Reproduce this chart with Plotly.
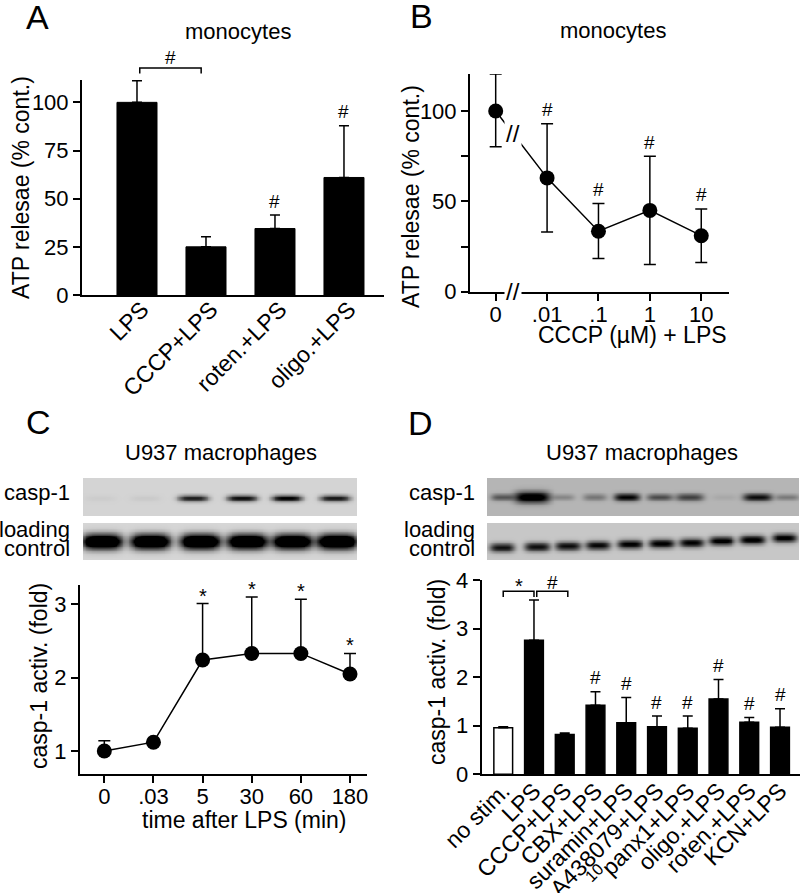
import numpy as np
import plotly.graph_objects as go

OFF = 0
W, H = 800, 893
FONT = "Liberation Sans, Arial, sans-serif"

# ---------------- data ----------------
# Panel A
a_cats = ["LPS", "CCCP+LPS", "roten.+LPS", "oligo.+LPS"]
a_mean = [100, 25, 34.5, 61]
a_err = [11.2, 5.2, 7.0, 26.8]
a_sig = ["", "", "#", "#"]

# Panel B
b_ticks = ["0", ".01", ".1", "1", "10"]
b_mean = [100, 63, 33.5, 45, 31]
b_err_up = [20.5, 30, 15.3, 30, 14.8]
b_err_dn = [19.7, 30, 15.1, 30, 14.8]
b_sig = ["", "#", "#", "#", "#"]

# Panel C
c_ticks = ["0", ".03", "5", "30", "60", "180"]
c_mean = [1.0, 1.12, 2.24, 2.33, 2.33, 2.05]
c_err = [0.14, 0.03, 0.77, 0.77, 0.74, 0.28]
c_sig = ["", "", "*", "*", "*", "*"]

# Panel D
d_cats = ["no stim.", "LPS", "CCCP+LPS", "CBX+LPS", "suramin+LPS", "A438079+LPS",
          "<sup>10</sup>panx1+LPS", "oligo.+LPS", "roten.+LPS", "KCN+LPS"]
d_mean = [0.96, 2.76, 0.82, 1.42, 1.06, 0.98, 0.95, 1.55, 1.07, 0.97]
d_err = [0.02, 0.83, 0.03, 0.28, 0.52, 0.22, 0.25, 0.40, 0.10, 0.38]
d_sig = ["", "", "", "#", "#", "#", "#", "#", "#", "#"]

# Western blots (lane position in lane units, relative band intensity)
c_casp_lanes = [0.0, 0.95, 1.96, 2.99, 3.94, 4.95]
c_casp_int = [0.03, 0.04, 0.75, 0.82, 0.88, 0.78]
c_load_lanes = [0.04, 1.06, 2.11, 3.10, 4.05, 5.00]
c_load_int = [0.97, 0.97, 1.0, 0.97, 0.95, 1.0]
d_casp_lanes = [0.0, 0.94, 1.92, 2.92, 3.93, 4.97, 5.91, 7.01, 8.05, 8.99]
d_casp_int = [0.45, 1.0, 0.22, 0.3, 0.85, 0.5, 0.55, 0.06, 0.8, 0.28]
d_load_lanes = [0.0, 1.10, 2.08, 3.02, 4.03, 5.03, 5.97, 6.92, 7.89, 8.90]
d_load_int = [0.72, 0.74, 0.74, 0.76, 0.8, 0.82, 0.8, 0.84, 0.84, 0.8]
d_load_ypos = [0.34, 0.36, 0.38, 0.40, 0.43, 0.45, 0.47, 0.52, 0.55, 0.60]

# ---------------- layout geometry (screen pixels) ----------------
cfg = {
    "A": dict(xd=(82, 384), yd=(80, 295), xr=(-0.797, 3.58), yr=(0, 111.6)),
    "B": dict(xd=(470, 729), yd=(74, 291.7), xr=(-0.5, 4.54), yr=(0, 120.5)),
    "C": dict(xd=(80, 366.7), yd=(585, 774.3), xr=(-0.495, 5.34), yr=(0.682, 3.263)),
    "D": dict(xd=(481.7, 800), yd=(580, 774.3), xr=(-0.70, 9.65), yr=(0, 4.0)),
}
blot_cfg = {
    "Ccasp": dict(xd=(83, 357), yd=(478, 516), xr=(-0.359, 5.42)),
    "Cload": dict(xd=(83, 357), yd=(523, 560), xr=(-0.359, 5.42)),
    "Dcasp": dict(xd=(487, 799), yd=(478, 516), xr=(-0.472, 9.37)),
    "Dload": dict(xd=(487, 799), yd=(523, 560), xr=(-0.472, 9.37)),
}


def pp(px, py):
    return (px - OFF) / W, 1 - (py - OFF) / H


def xdom(c):
    return [max(0, (c["xd"][0] - OFF) / W), min(1, (c["xd"][1] - OFF) / W)]


def ydom(c):
    return [max(0, 1 - (c["yd"][1] - OFF) / H), min(1, 1 - (c["yd"][0] - OFF) / H)]


def to_paper(c, xv, yv):
    px = c["xd"][0] + (xv - c["xr"][0]) / (c["xr"][1] - c["xr"][0]) * (c["xd"][1] - c["xd"][0])
    py = c["yd"][1] - (yv - c["yr"][0]) / (c["yr"][1] - c["yr"][0]) * (c["yd"][1] - c["yd"][0])
    return pp(px, py)


fig = go.Figure()

# ---------------- Panel A ----------------
fig.add_trace(go.Bar(
    x=list(range(len(a_cats))), y=a_mean, width=0.58,
    marker=dict(color="black", line=dict(color="black", width=1)),
    error_y=dict(type="data", symmetric=False, array=a_err, arrayminus=[0] * len(a_err),
                 color="black", thickness=1.5, width=5),
    xaxis="x", yaxis="y", hoverinfo="skip"))

# ---------------- Panel B ----------------
fig.add_trace(go.Scatter(
    x=list(range(len(b_ticks))), y=b_mean, mode="lines+markers",
    line=dict(color="black", width=1.5),
    marker=dict(color="black", size=15),
    error_y=dict(type="data", symmetric=False, array=b_err_up, arrayminus=b_err_dn,
                 color="black", thickness=1.5, width=6),
    xaxis="x2", yaxis="y2", hoverinfo="skip", cliponaxis=False))

# ---------------- Panel C ----------------
fig.add_trace(go.Scatter(
    x=list(range(len(c_ticks))), y=c_mean, mode="lines+markers",
    line=dict(color="black", width=1.5),
    marker=dict(color="black", size=15),
    error_y=dict(type="data", symmetric=False, array=c_err, arrayminus=[0] * len(c_err),
                 color="black", thickness=1.5, width=6),
    xaxis="x3", yaxis="y3", hoverinfo="skip", cliponaxis=False))

# ---------------- Panel D ----------------
fig.add_trace(go.Bar(
    x=list(range(len(d_cats))), y=d_mean, width=0.61,
    marker=dict(color=["white"] + ["black"] * (len(d_cats) - 1),
                line=dict(color="black", width=1.5)),
    error_y=dict(type="data", symmetric=False, array=d_err, arrayminus=[0] * len(d_err),
                 color="black", thickness=1.5, width=5),
    xaxis="x4", yaxis="y4", hoverinfo="skip"))


# ---------------- blots ----------------
def blot(lanes, ints, xr, ycs, hw, hh, bg, gain):
    xs = np.linspace(xr[0], xr[1], 320)
    ys = np.linspace(0, 1, 48)
    X, Y = np.meshgrid(xs, ys)
    z = np.full(X.shape, bg)
    for i, (c, a) in enumerate(zip(lanes, ints)):
        yc = ycs[i] if isinstance(ycs, (list, tuple)) else ycs
        w = hw[i] if isinstance(hw, (list, tuple)) else hw
        h = hh[i] if isinstance(hh, (list, tuple)) else hh
        prof = np.exp(-((X - c) / w) ** 4) * np.exp(-((Y - yc) / h) ** 2)
        z = z + gain * a * prof
    return xs, ys, np.clip(z, 0, 1)


blots = [
    ("Ccasp", c_casp_lanes, c_casp_int, 0.47, 0.32, 0.085, 0.17, 0.95),
    ("Cload", c_load_lanes, c_load_int, 0.50, 0.42, 0.2, 0.16, 1.4),
    ("Dcasp", d_casp_lanes, d_casp_int, 0.50,
     [0.36, 0.55, 0.36, 0.38, 0.4, 0.4, 0.45, 0.4, 0.45, 0.38],
     [0.09, 0.15, 0.08, 0.09, 0.1, 0.09, 0.1, 0.08, 0.1, 0.08], 0.29, 0.85),
    ("Dload", d_load_lanes, d_load_int, d_load_ypos, 0.4, 0.12, 0.22, 1.0),
]
blot_axes = {}
for k, (name, lanes, ints, ycs, hw, hh, bg, gain) in enumerate(blots):
    n = 5 + k
    xs, ys, z = blot(lanes, ints, blot_cfg[name]["xr"], ycs, hw, hh, bg, gain)
    fig.add_trace(go.Heatmap(x=xs, y=ys, z=z, zmin=0, zmax=1, zsmooth="best",
                             colorscale=[[0, "white"], [1, "black"]], showscale=False,
                             xaxis="x%d" % n, yaxis="y%d" % n, hoverinfo="skip"))
    blot_axes[n] = name

# ---------------- axes ----------------
base = dict(showline=True, linecolor="black", linewidth=2, ticks="outside", ticklen=7,
            tickwidth=2, tickcolor="black", showgrid=False, zeroline=False, automargin=False,
            tickfont=dict(family=FONT, size=22, color="black"), fixedrange=True)
rot = dict(family=FONT, size=23, color="black")

lay = {}
lay["xaxis"] = dict(base, domain=xdom(cfg["A"]), range=cfg["A"]["xr"], anchor="y",
                    tickvals=list(range(len(a_cats))), ticktext=a_cats, tickangle=-45,
                    ticks="", tickfont=rot, ticklabelshift=5, ticklabelstandoff=-10)
lay["yaxis"] = dict(base, domain=ydom(cfg["A"]), range=cfg["A"]["yr"], anchor="x",
                    tickvals=[0, 25, 50, 75, 100])
lay["xaxis2"] = dict(base, domain=xdom(cfg["B"]), range=cfg["B"]["xr"], anchor="y2",
                     tickvals=list(range(len(b_ticks))), ticktext=b_ticks, tickangle=0,
                     ticklabelstandoff=-5)
lay["yaxis2"] = dict(base, domain=ydom(cfg["B"]), range=cfg["B"]["yr"], anchor="x2",
                     tickvals=[0, 25, 50, 75, 100], ticktext=["0", "", "50", "", "100"])
lay["xaxis3"] = dict(base, domain=xdom(cfg["C"]), range=cfg["C"]["xr"], anchor="y3",
                     tickvals=list(range(len(c_ticks))), ticktext=c_ticks, tickangle=0,
                     ticklabelstandoff=-6)
lay["yaxis3"] = dict(base, domain=ydom(cfg["C"]), range=cfg["C"]["yr"], anchor="x3",
                     tickvals=[1, 2, 3])
lay["xaxis4"] = dict(base, domain=xdom(cfg["D"]), range=cfg["D"]["xr"], anchor="y4",
                     tickvals=list(range(len(d_cats))), ticktext=d_cats, tickangle=-45,
                     ticks="", tickfont=rot, ticklabelshift=0, ticklabelstandoff=-8)
lay["yaxis4"] = dict(base, domain=ydom(cfg["D"]), range=cfg["D"]["yr"], anchor="x4",
                     tickvals=[0, 1, 2, 3, 4])
for n, name in blot_axes.items():
    bc = blot_cfg[name]
    lay["xaxis%d" % n] = dict(domain=xdom(bc), range=bc["xr"], visible=False,
                              anchor="y%d" % n, fixedrange=True, automargin=False)
    lay["yaxis%d" % n] = dict(domain=ydom(bc), range=[0, 1], visible=False,
                              anchor="x%d" % n, fixedrange=True, automargin=False)

# ---------------- annotations ----------------
ann = []


def text(x, y, s, size=22, xanchor="center", yanchor="middle", angle=0, **kw):
    d = dict(x=x, y=y, xref="paper", yref="paper", text=s, showarrow=False,
             font=dict(family=FONT, size=size, color="black"),
             xanchor=xanchor, yanchor=yanchor, textangle=angle)
    d.update(kw)
    ann.append(d)


# panel letters
for L, (px, py) in {"A": (37, 17), "B": (421, 16), "C": (38, 422), "D": (420, 423)}.items():
    text(*pp(px, py), L, size=34)

# titles
text(*pp(238, 31), "monocytes")
text(*pp(613, 30), "monocytes")
text(*pp(221, 452), "U937 macrophages")
text(*pp(642, 452), "U937 macrophages")

# axis titles
text(*pp(21, 188), "ATP relesae (% cont.)", size=23, angle=-90)
text(*pp(411, 197), "ATP relesae (% cont.)", size=23, angle=-90)
text(*pp(39, 676), "casp-1 activ. (fold)", size=23, angle=-90)
text(*pp(437, 672), "casp-1 activ. (fold)", size=23, angle=-90)
text(*pp(632, 335), "CCCP (µM) + LPS", size=23)
text(*pp(244, 820), "time after LPS (min)", size=23)

# blot labels
for rx in (72, 477):
    text(*pp(rx, 492), "casp-1", xanchor="right")
    text(*pp(rx, 529), "loading", xanchor="right")
    text(*pp(rx, 548), "control", xanchor="right")

# significance marks
for i, s in enumerate(a_sig):
    if s:
        text(*to_paper(cfg["A"], i, a_mean[i] + a_err[i]), s, size=19, yshift=14)
for i, s in enumerate(b_sig):
    if s:
        text(*to_paper(cfg["B"], i, b_mean[i] + b_err_up[i]), s, size=19, yshift=14)
for i, s in enumerate(c_sig):
    if s:
        text(*to_paper(cfg["C"], i, c_mean[i] + c_err[i]), s, size=20, yshift=8)
for i, s in enumerate(d_sig):
    if s:
        text(*to_paper(cfg["D"], i, d_mean[i] + d_err[i]), s, size=19, yshift=14)

# brackets
shapes = []


def bracket(c, x0, x1, yv, ydrop, label, lsize, lshift):
    X0, Y = to_paper(c, x0, yv)
    X1, _ = to_paper(c, x1, yv)
    _, Yd = to_paper(c, x0, yv - ydrop)
    shapes.append(dict(type="path", xref="paper", yref="paper",
                       path="M %f %f L %f %f L %f %f L %f %f" % (X0, Yd, X0, Y, X1, Y, X1, Yd),
                       line=dict(color="black", width=1.5)))
    text((X0 + X1) / 2, Y, label, size=lsize, yshift=lshift)


bracket(cfg["A"], 0.04, 0.93, 117.8, 2.8, "#", 19, 11)
bracket(cfg["D"], 0.0, 1.0, 3.77, 0.12, "*", 20, 5)
bracket(cfg["D"], 1.09, 2.1, 3.77, 0.12, "#", 19, 9)

# axis breaks in panel B
brk = 0.337
text(*to_paper(cfg["B"], brk, 0), "//", size=24, bgcolor="white")
text(*to_paper(cfg["B"], brk, b_mean[0] + (b_mean[1] - b_mean[0]) * brk), "//", size=24,
     bgcolor="white")

fig.update_layout(
    width=W, height=H, margin=dict(l=0, r=0, t=0, b=0, autoexpand=False),
    paper_bgcolor="white", plot_bgcolor="white", showlegend=False,
    font=dict(family=FONT, size=22, color="black"),
    annotations=ann, shapes=shapes, **lay)

fig.write_html("out.html", config={"displayModeBar": False, "staticPlot": True},
               post_script="document.body.style.margin='0px';document.body.style.overflow='hidden';")
